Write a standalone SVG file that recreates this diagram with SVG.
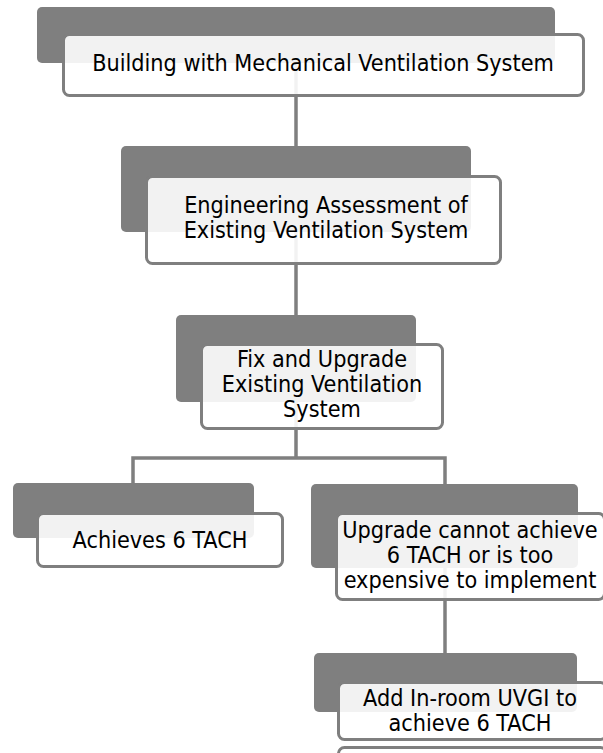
<svg xmlns="http://www.w3.org/2000/svg" width="603" height="753" viewBox="0 0 603 753">
<style>
.bg{fill:#7f7f7f}
.fg{fill:#ffffff;fill-opacity:0.9;stroke:#7f7f7f;stroke-width:3}
.t{font-family:"DejaVu Sans Condensed","DejaVu Sans",Verdana,sans-serif;font-stretch:condensed;font-size:23.2px;fill:#000;text-anchor:middle}
.c{fill:none;stroke:#7f7f7f;stroke-width:3.5}
</style>
<rect width="603" height="753" fill="#fff"/>
<g id="connectors">
<path class="c" d="M296 63V146"/>
<path class="c" d="M296 232V315"/>
<path class="c" d="M296 402V458M133 484V458H445V484"/>
<path class="c" d="M445 568V653"/>
</g>
<g id="n1">
<rect class="bg" x="37" y="7" width="518" height="56" rx="5"/>
<rect class="fg" x="63.5" y="34.5" width="520" height="61" rx="6"/>
<text class="t" x="323" y="71">Building with Mechanical Ventilation System</text>
</g>
<g id="n2">
<rect class="bg" x="121" y="146" width="350" height="86" rx="5"/>
<rect class="fg" x="146.5" y="176.5" width="354" height="87" rx="6"/>
<text class="t" x="326" y="213">Engineering Assessment of</text>
<text class="t" x="326" y="238">Existing Ventilation System</text>
</g>
<g id="n3">
<rect class="bg" x="176" y="315" width="240" height="87" rx="5"/>
<rect class="fg" x="201.5" y="344.5" width="241" height="84" rx="6"/>
<text class="t" x="322" y="367">Fix and Upgrade</text>
<text class="t" x="322" y="392">Existing Ventilation</text>
<text class="t" x="322" y="417">System</text>
</g>
<g id="n4">
<rect class="bg" x="13" y="483" width="241" height="55" rx="5"/>
<rect class="fg" x="37.5" y="513.5" width="245" height="53" rx="6"/>
<text class="t" x="160" y="548">Achieves 6 TACH</text>
</g>
<g id="n5">
<rect class="bg" x="311" y="484" width="267" height="84" rx="5"/>
<rect class="fg" x="336.5" y="513.5" width="268" height="86" rx="6"/>
<text class="t" x="470" y="538">Upgrade cannot achieve</text>
<text class="t" x="470" y="563">6 TACH or is too</text>
<text class="t" x="470" y="588">expensive to implement</text>
</g>
<g id="n6">
<rect class="bg" x="314" y="653" width="263" height="59" rx="5"/>
<rect class="fg" x="338.5" y="682.5" width="268" height="57" rx="6"/>
<text class="t" x="470" y="706">Add In-room UVGI to</text>
<text class="t" x="470" y="731">achieve 6 TACH</text>
</g>
<g id="n7">
<rect class="fg" x="338.5" y="747.5" width="268" height="60" rx="6"/>
</g>
</svg>
